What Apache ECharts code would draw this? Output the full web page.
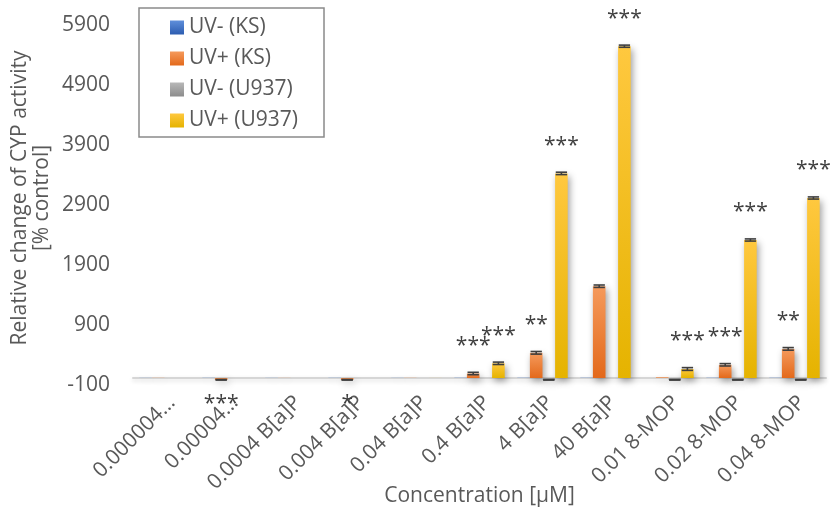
<!DOCTYPE html>
<html>
<head>
<meta charset="utf-8">
<script src="https://cdn.jsdelivr.net/npm/echarts@6/dist/echarts.min.js"></script>
<style>
  html, body { margin: 0; padding: 0; background: #fff; }
  #chart { width: 835px; height: 513px; }
</style>
</head>
<body>
<div id="chart"></div>
<script>
// Concentrations tested
const categories = ['0.000004 B[a]P', '0.00004 B[a]P', '0.0004 B[a]P', '0.004 B[a]P', '0.04 B[a]P',
  '0.4 B[a]P', '4 B[a]P', '40 B[a]P', '0.01 8-MOP', '0.02 8-MOP', '0.04 8-MOP'];

// Relative change of CYP activity [% control]
const uvMinusKS    = [-98, -97, -98, -97, -98, -96, -96, -96, -100, -96, -96];
const uvPlusKS     = [-97, -130, -98, -130, -97, -25, 320, 1430, -88, 120, 385];
const uvMinusU937  = [-100, -100, -100, -100, -100, -100, -130, -100, -130, -130, -130];
const uvPlusU937   = [-100, -100, -100, -100, -99, 145, 3310, 5430, 50, 2200, 2900];

// Standard deviations (0 = no visible error bar)
const errMinusKS   = [0, 0, 0, 0, 0, 0, 0, 0, 0, 0, 0];
const errPlusKS    = [0, 5, 0, 5, 0, 20, 22, 20, 0, 20, 22];
const errMinusU937 = [0, 0, 0, 0, 0, 0, 5, 0, 5, 5, 5];
const errPlusU937  = [0, 0, 0, 0, 0, 20, 20, 18, 23, 18, 18];

// Significance marks
const sigPlusKS    = ['', '***', '', '*', '', '***', '**', '', '', '***', '**'];
const sigPlusU937  = ['', '', '', '', '', '***', '***', '***', '***', '***', '***'];

// Y tick labels run from -100 to 5900
const yTicks = [-100, 900, 1900, 2900, 3900, 4900, 5900];

// Bars hang from the axis floor (-100), so values are shifted onto a 0-based scale
const FLOOR = yTicks[0];
const shift = v => v - FLOOR;

const FONT = '"Open Sans", "Noto Sans", sans-serif';
const TXT = '#595959';
const FS = 21;

function grad(top, bottom) {
  return new echarts.graphic.LinearGradient(0, 0, 0, 1, [
    { offset: 0, color: top }, { offset: 1, color: bottom }
  ]);
}

const seriesDefs = [
  { name: 'UV- (KS)',   values: uvMinusKS,   err: errMinusKS,   sig: null,        color: grad('#5f8fdb', '#2c5cb0') },
  { name: 'UV+ (KS)',   values: uvPlusKS,    err: errPlusKS,    sig: sigPlusKS,   color: grad('#f59a5c', '#e3691b') },
  { name: 'UV- (U937)', values: uvMinusU937, err: errMinusU937, sig: null,        color: grad('#b8b8b8', '#8c8c8c') },
  { name: 'UV+ (U937)', values: uvPlusU937,  err: errPlusU937,  sig: sigPlusU937, color: grad('#ffc83f', '#e5b300') }
];

const GAP = 0.2; // category gap fraction

const barSeries = seriesDefs.map(def => ({
  name: def.name,
  type: 'bar',
  barGap: '0%',
  barCategoryGap: (GAP * 100) + '%',
  clip: false,
  itemStyle: {
    color: def.color,
    shadowBlur: 7,
    shadowOffsetX: 2,
    shadowOffsetY: 3,
    shadowColor: 'rgba(0,0,0,0.38)'
  },
  data: def.values.map((v, i) => {
    const mark = def.sig ? def.sig[i] : '';
    const item = { value: shift(v) };
    if (mark) {
      item.label = {
        show: true,
        position: v < FLOOR ? 'bottom' : 'top',
        distance: v < FLOOR ? 14 : 17,
        formatter: mark,
        color: '#404040',
        fontSize: FS,
        fontFamily: FONT
      };
    }
    return item;
  })
}));

// Error bar rows: [category index, value, sd, series position]
const errRows = [];
seriesDefs.forEach((def, s) => {
  def.values.forEach((v, i) => {
    if (def.err[i] > 0) errRows.push([i, shift(v), def.err[i], s]);
  });
});

const errorSeries = {
  name: 'error',
  type: 'custom',
  z: 5,
  silent: true,
  clip: false,
  data: errRows,
  encode: { x: 0, y: 1 },
  renderItem: function (params, api) {
    const cat = api.value(0), val = api.value(1), sd = api.value(2), pos = api.value(3);
    const band = api.size([1, 0])[0];
    const bw = band * (1 - GAP) / seriesDefs.length;
    const cx = api.coord([cat, val])[0] + (pos - (seriesDefs.length - 1) / 2) * bw;
    const yHi = api.coord([cat, val + sd])[1];
    const yLo = api.coord([cat, val - sd])[1];
    const half = bw * 0.45;
    const style = { stroke: '#3f3f3f', lineWidth: 1.6 };
    return {
      type: 'group',
      children: [
        { type: 'line', shape: { x1: cx, y1: yHi, x2: cx, y2: yLo }, style: style },
        { type: 'line', shape: { x1: cx - half, y1: yHi, x2: cx + half, y2: yHi }, style: style },
        { type: 'line', shape: { x1: cx - half, y1: yLo, x2: cx + half, y2: yLo }, style: style }
      ]
    };
  }
};

const chart = echarts.init(document.getElementById('chart'), null, { renderer: 'canvas' });

chart.setOption({
  animation: false,
  backgroundColor: '#ffffff',
  textStyle: { fontFamily: FONT },
  grid: { left: 133, right: 9, top: 18, bottom: 135, containLabel: false, outerBoundsMode: 'none' },
  legend: {
    data: seriesDefs.map(d => d.name),
    orient: 'vertical',
    left: 139,
    top: 8,
    padding: [9, 26, 6, 31],
    itemGap: 10,
    itemWidth: 14,
    itemHeight: 14,
    icon: 'rect',
    borderColor: '#8a8a8a',
    borderWidth: 1.5,
    textStyle: { color: TXT, fontSize: FS, fontFamily: FONT }
  },
  xAxis: {
    type: 'category',
    data: categories,
    name: 'Concentration [µM]',
    nameLocation: 'middle',
    nameGap: 108,
    nameMoveOverlap: false,
    nameTextStyle: { color: TXT, fontSize: FS, fontFamily: FONT, verticalAlign: 'top' },
    axisLine: { show: true, lineStyle: { color: '#d6d6d6', width: 2, shadowBlur: 4, shadowOffsetY: 2, shadowColor: 'rgba(0,0,0,0.15)' } },
    axisTick: { show: false },
    axisLabel: {
      interval: 0,
      rotate: 45,
      margin: 14,
      verticalAlign: 'top',
      color: TXT,
      fontSize: FS,
      fontFamily: FONT,
      formatter: name => name.length > 12 ? name.split(' ')[0] + '…' : name
    }
  },
  yAxis: {
    type: 'value',
    min: 0,
    max: shift(yTicks[yTicks.length - 1]),
    interval: yTicks[1] - yTicks[0],
    name: 'Relative change of CYP activity\n[% control]',
    nameLocation: 'middle',
    nameRotate: 90,
    nameGap: 80,
    nameMoveOverlap: false,
    nameTextStyle: { color: TXT, fontSize: FS, lineHeight: 22, fontFamily: FONT },
    axisLine: { show: false },
    axisTick: { show: false },
    splitLine: { show: false },
    axisLabel: {
      margin: 23,
      color: TXT,
      fontSize: FS,
      fontFamily: FONT,
      verticalAlign: 'top',
      lineHeight: 14,
      formatter: v => String(v + FLOOR)
    }
  },
  series: barSeries.concat([errorSeries])
});
</script>
</body>
</html>
